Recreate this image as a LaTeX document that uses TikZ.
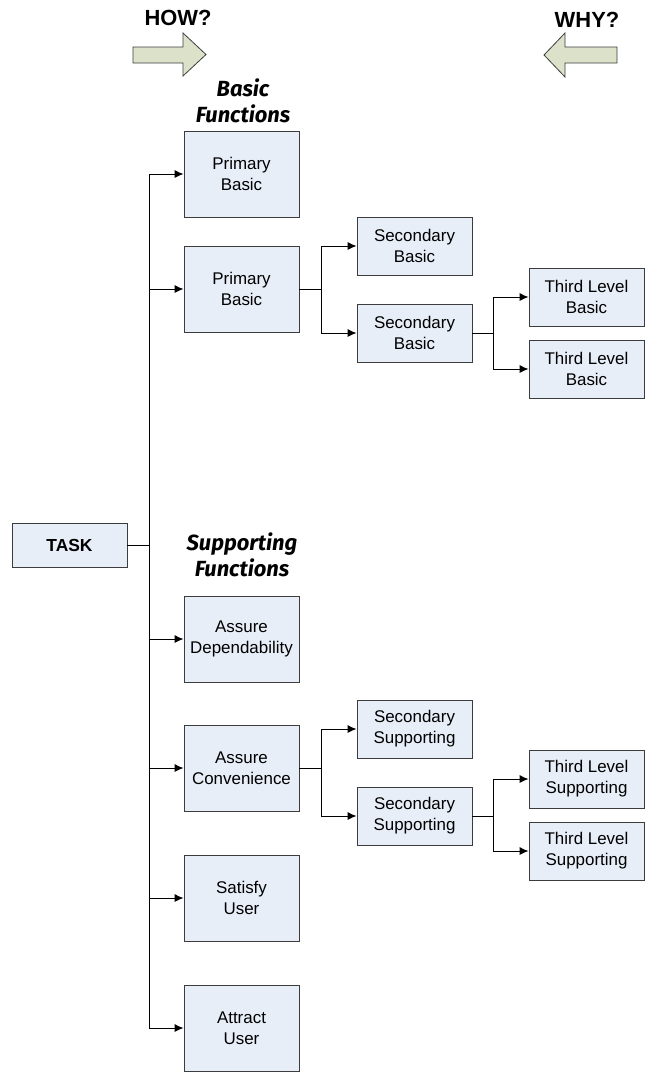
\documentclass[tikz,border=0pt]{standalone}
\usepackage{fontspec}
\setmainfont{Liberation Sans}
\newfontfamily\comicfont{Fira Sans}
\usetikzlibrary{arrows.meta}
\definecolor{boxfill}{HTML}{E8EEF8}
\definecolor{boxline}{HTML}{3C3C3C}
\definecolor{arrfill}{HTML}{DCE2CA}
\tikzset{
  fbox/.style={draw=boxline, line width=0.9bp, fill=boxfill, minimum width=115bp, inner sep=0pt, align=center, font=\fontsize{17}{21}\selectfont},
  tall/.style={fbox, minimum height=86bp},
  short/.style={fbox, minimum height=58bp},
  conn/.style={draw=black, line width=0.9bp},
  arr/.style={conn, -{Latex[length=9bp,width=8bp]}},
  bigarrow/.style={draw=boxline, line width=0.8bp, fill=arrfill},
  headtext/.style={font=\fontsize{22}{25}\selectfont\bfseries},
  grouptext/.style={align=center, font=\comicfont\bfseries\itshape\fontsize{22}{26}\selectfont}
}
\begin{document}
\begin{tikzpicture}[x=1bp, y=-1bp]
\useasboundingbox (0,0) rectangle (645,1072);
% header arrows
\node[headtext] (how) at (178,18) {HOW?};
\node[headtext] (why) at (587,20) {WHY?};
\draw[bigarrow] (133,47) -- (183,47) -- (183,33) -- (206,54.5) -- (183,76) -- (183,63) -- (133,63) -- cycle;
\draw[bigarrow] (617,47) -- (565,47) -- (565,33) -- (544,55) -- (565,77) -- (565,63) -- (617,63) -- cycle;
% group labels
\node[grouptext] (basiclbl) at (243,101) {Basic\\Functions};
\node[grouptext] (supplbl) at (242,555) {Supporting\\Functions};
% nodes
\node[fbox, minimum height=44bp, font=\fontsize{17.5}{21}\selectfont\bfseries] (task) at (69.5,545) {TASK};
\node[tall] (pb1) at (241.5,174) {Primary\\Basic};
\node[tall] (pb2) at (241.5,289) {Primary\\Basic};
\node[short] (sb1) at (414.5,246) {Secondary\\Basic};
\node[short] (sb2) at (414.5,333) {Secondary\\Basic};
\node[short] (tb1) at (586.5,297) {Third Level\\Basic};
\node[short] (tb2) at (586.5,369) {Third Level\\Basic};
\node[tall] (ad) at (241.5,639) {Assure\\Dependability};
\node[tall] (ac) at (241.5,768) {Assure\\Convenience};
\node[short] (ss1) at (414.5,729) {Secondary\\Supporting};
\node[short] (ss2) at (414.5,816) {Secondary\\Supporting};
\node[short] (ts1) at (586.5,779) {Third Level\\Supporting};
\node[short] (ts2) at (586.5,851) {Third Level\\Supporting};
\node[tall] (su) at (241.5,898) {Satisfy\\User};
\node[tall] (au) at (241.5,1028) {Attract\\User};
% junctions
\coordinate (trunk) at (149,545);
\coordinate (jb) at (321,289);
\coordinate (jb2) at (493,333);
\coordinate (js) at (321,768);
\coordinate (js2) at (493,816);
% connectors
\draw[conn] (task.east) -- (trunk);
\foreach \t in {pb1,pb2,ad,ac,su,au} { \draw[arr] (trunk) |- (\t.west); }
\draw[conn] (pb2.east) -- (jb);
\draw[arr] (jb) |- (sb1.west);
\draw[arr] (jb) |- (sb2.west);
\draw[conn] (sb2.east) -- (jb2);
\draw[arr] (jb2) |- (tb1.west);
\draw[arr] (jb2) |- (tb2.west);
\draw[conn] (ac.east) -- (js);
\draw[arr] (js) |- (ss1.west);
\draw[arr] (js) |- (ss2.west);
\draw[conn] (ss2.east) -- (js2);
\draw[arr] (js2) |- (ts1.west);
\draw[arr] (js2) |- (ts2.west);
\end{tikzpicture}
\end{document}
